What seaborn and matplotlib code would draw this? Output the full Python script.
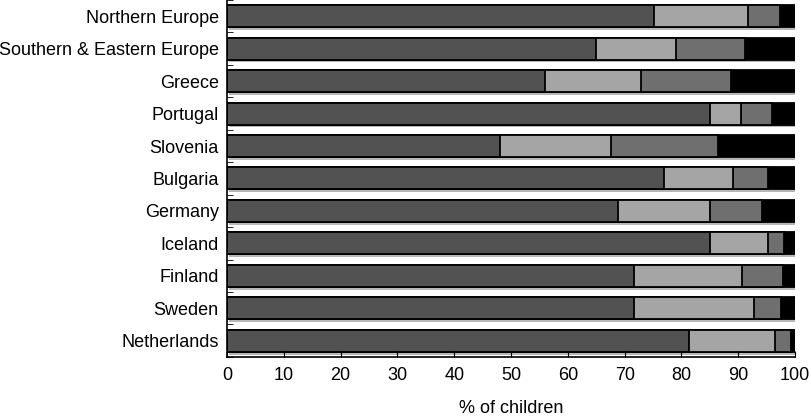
import numpy as np
import pandas as pd
import matplotlib
matplotlib.use("Agg")
import matplotlib.pyplot as plt
import matplotlib.patheffects as pe
import seaborn as sns

# categories, top to bottom
countries = ['Northern Europe', 'Southern & Eastern Europe', 'Greece', 'Portugal',
             'Slovenia', 'Bulgaria', 'Germany', 'Iceland', 'Finland', 'Sweden',
             'Netherlands']

# segment widths (% of children)
seg1 = [75.1, 65.0, 55.9, 85.1, 48.1, 76.9, 68.8, 85.0, 71.6, 71.6, 81.4]
seg2 = [16.6, 14.0, 17.0, 5.4, 19.5, 12.2, 16.3, 10.2, 19.1, 21.1, 15.1]
seg3 = [5.6, 12.2, 15.8, 5.4, 18.8, 6.2, 9.0, 2.9, 7.2, 4.8, 2.8]
seg4 = [2.7, 8.8, 11.3, 4.1, 13.6, 4.7, 5.9, 1.9, 2.1, 2.5, 0.7]

seg_colors = ['#525252', '#a5a5a5', '#6f6f6f', '#000000']
x_ticks = list(range(0, 101, 10))

df = pd.DataFrame({'country': countries, 's1': seg1, 's2': seg2, 's3': seg3, 's4': seg4})
df['c1'] = df.s1
df['c2'] = df.c1 + df.s2
df['c3'] = df.c2 + df.s3
df['c4'] = df.c3 + df.s4

plt.rcParams['font.family'] = ['Liberation Sans', 'DejaVu Sans']
fs = 13

fig = plt.figure(figsize=(8.12, 4.16), dpi=100)
ax = fig.add_axes([0.2796, 0.142, 0.6995, 0.858])

# draw cumulative totals from the outermost segment inwards
for i, col in enumerate(['c4', 'c3', 'c2', 'c1']):
    sns.barplot(data=df, x=col, y='country', color=seg_colors[3 - i], orient='h',
                width=0.68, edgecolor='black', linewidth=1.3, saturation=1, ax=ax)
    if i == 0:
        for p in ax.patches:
            p.set_path_effects([pe.SimplePatchShadow(offset=(1.5, -2), shadow_rgbFace='#888888', alpha=0.6),
                                pe.Normal()])

ax.set_xlim(0, 100)
ax.set_ylim(len(countries) - 0.5, -0.5)
ax.set_xticks(x_ticks)
ax.set_xlabel('% of children', fontsize=fs, labelpad=12)
ax.set_ylabel('')
ax.tick_params(axis='x', direction='in', length=4, labelsize=fs, pad=7)
ax.tick_params(axis='y', which='major', length=0, labelsize=fs, pad=6)
ax.set_yticks(np.arange(-0.5, len(countries), 1), minor=True)
ax.tick_params(axis='y', which='minor', direction='in', length=4)
for s in ['top', 'right']:
    ax.spines[s].set_visible(False)
for s in ['left', 'bottom']:
    ax.spines[s].set_linewidth(1.2)

fig.savefig('out.png', dpi=100)
